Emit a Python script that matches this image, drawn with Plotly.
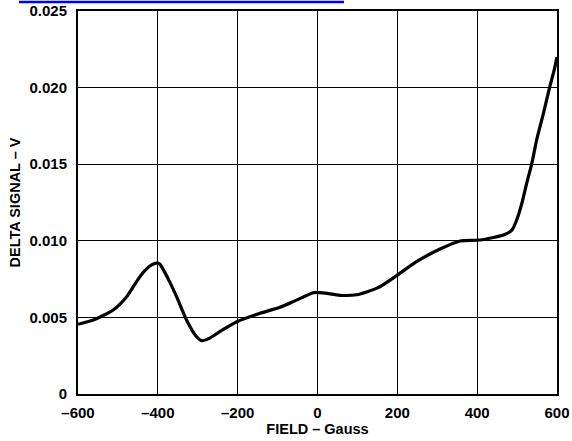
import plotly.graph_objects as go

field = [-600, -560, -512, -478, -445, -420, -407, -395, -386, -370, -353, -328, -305, -290,
         -270, -240, -202, -144, -94, -61, -30, -11, -2, 20, 56, 98, 152, 198, 248, 307,
         357, 407, 466, 487, 499, 512, 524, 537, 549, 566, 582, 593, 600]
signal = [0.00455, 0.00485, 0.00548, 0.00635, 0.00766, 0.00835, 0.00853, 0.00848, 0.0081, 0.0073,
          0.00635, 0.00483, 0.0038, 0.00348, 0.00365, 0.00415, 0.00472, 0.00527, 0.00566, 0.00603,
          0.0064, 0.00661, 0.00664, 0.00658, 0.00644, 0.00648, 0.00694, 0.00772, 0.00864, 0.00946,
          0.00999, 0.01005, 0.01038, 0.0107, 0.01136, 0.01245, 0.01375, 0.01506, 0.01658, 0.01832,
          0.02006, 0.02115, 0.0220]

x_ticks = [-600, -400, -200, 0, 200, 400, 600]
x_labels = ["\u2013600", "\u2013400", "\u2013200", "0", "200", "400", "600"]
y_ticks = [0, 0.005, 0.010, 0.015, 0.020, 0.025]
y_labels = ["0", "0.005", "0.010", "0.015", "0.020", "0.025"]

fam = "Liberation Sans, Arial, sans-serif"
tfont = dict(family=fam, size=15, color="black", weight="bold")

fig = go.Figure()
fig.add_trace(go.Scatter(x=field, y=signal, mode="lines",
                         line=dict(color="black", width=3.2, shape="spline", smoothing=0.6),
                         showlegend=False, hoverinfo="skip"))

fig.update_layout(
    width=572, height=441,
    margin=dict(l=78, r=15, t=11, b=47, autoexpand=False),
    paper_bgcolor="white", plot_bgcolor="white",
    font=dict(family=fam, size=14, color="black"),
    xaxis=dict(range=[-600, 600], tickvals=x_ticks, ticktext=x_labels,
               showgrid=True, gridcolor="black", gridwidth=1,
               showline=True, linecolor="black", linewidth=2, mirror=True,
               ticks="outside", ticklen=4, tickcolor="rgba(0,0,0,0)", zeroline=False,
               tickfont=tfont, automargin=False,
               title=dict(text="<b>FIELD \u2013 Gauss</b>", font=dict(family=fam, size=14.5), standoff=4)),
    yaxis=dict(range=[0, 0.025], tickvals=y_ticks, ticktext=y_labels,
               showgrid=True, gridcolor="black", gridwidth=1,
               showline=True, linecolor="black", linewidth=2, mirror=True,
               ticks="outside", ticklen=6, tickcolor="rgba(0,0,0,0)", zeroline=False,
               tickfont=tfont, automargin=False,
               title=dict(text="<b>DELTA SIGNAL \u2013 V</b>", font=dict(family=fam, size=14.5), standoff=5)),
    shapes=[dict(type="line", xref="paper", yref="paper",
                 x0=(19 - 78) / 479, x1=(344 - 78) / 479,
                 y0=(394 - 2) / 383, y1=(394 - 2) / 383,
                 line=dict(color="#0000ff", width=2.5))],
)

fig.write_html("out.html", config={"displayModeBar": False},
               post_script="document.body.style.margin='0';document.body.style.overflow='hidden';")
